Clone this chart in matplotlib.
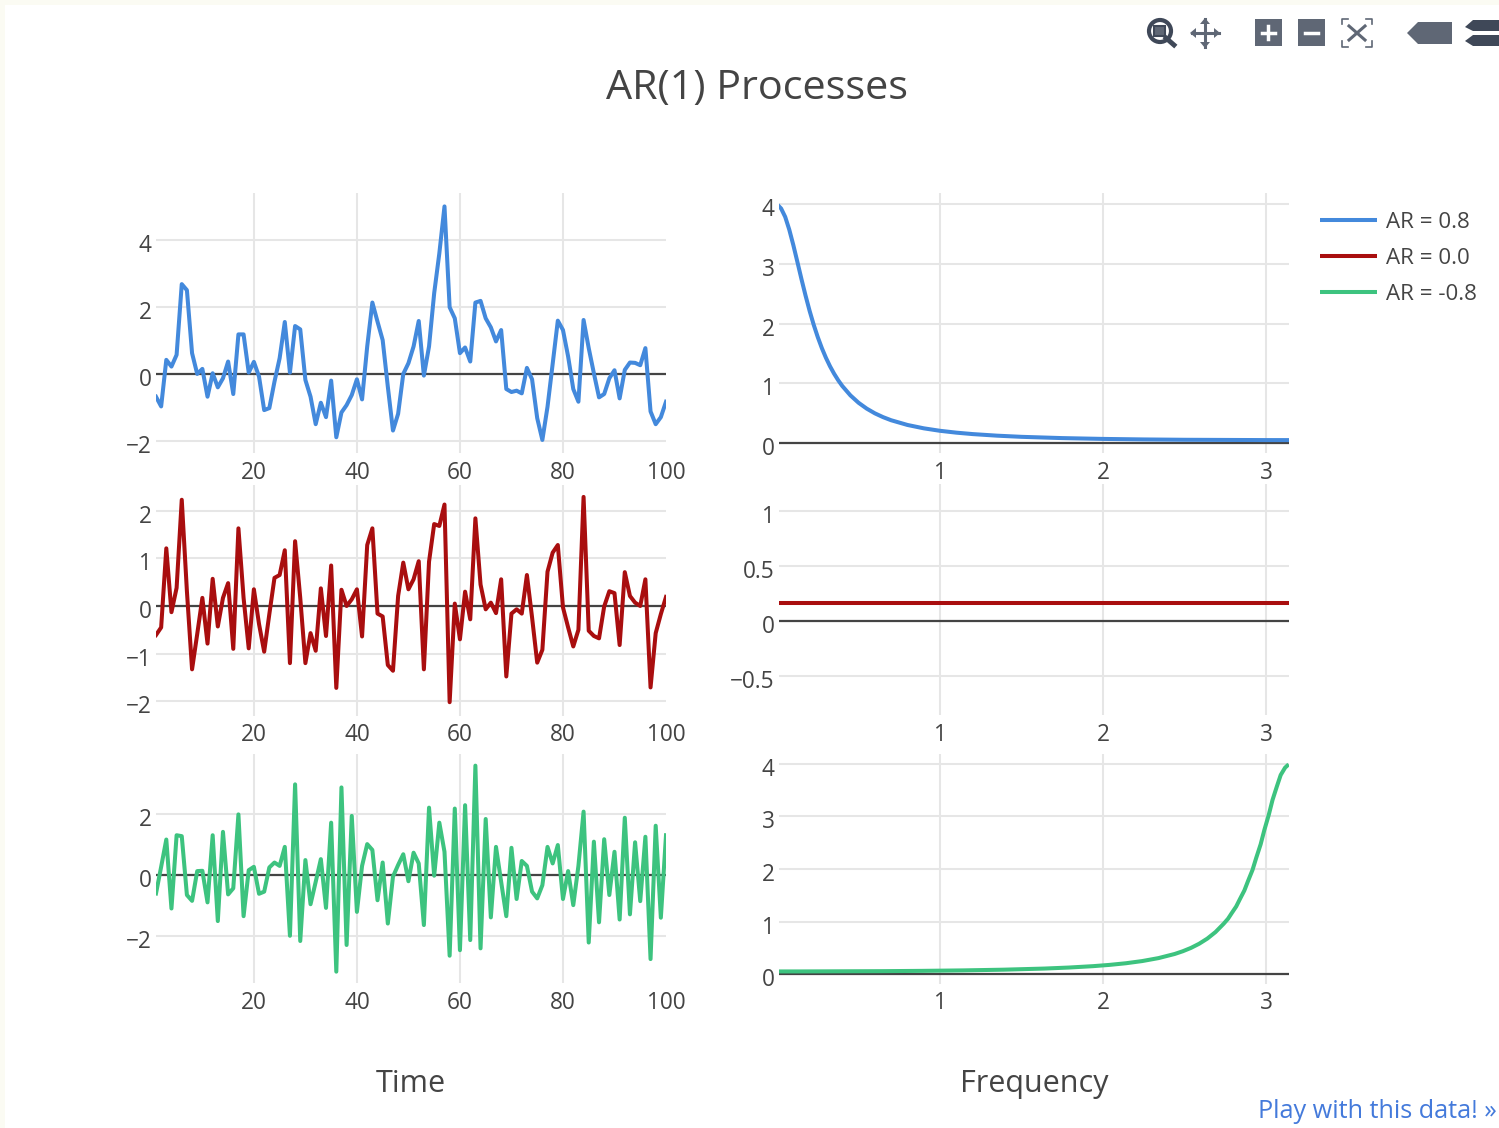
import matplotlib
matplotlib.use('Agg')
import matplotlib.pyplot as plt
from matplotlib.lines import Line2D
from matplotlib.patches import Circle, Polygon, Rectangle
from matplotlib.transforms import ScaledTranslation

plt.rcParams['font.family'] = ['Open Sans', 'DejaVu Sans']

W, H = 1499, 1128
TEXT = '#444444'
BLUE = '#4389dc'
RED = '#a90e0f'
GREEN = '#3dc37f'
LW = 2.9

# Time series
time = list(range(1, 101))
ar_pos = [-0.68, -0.97, 0.42, 0.22, 0.57, 2.68, 2.5, 0.62, 0.0, 0.15,
          -0.68, 0.02, -0.4, -0.13, 0.37, -0.6, 1.18, 1.18, 0.04, 0.36,
          -0.08, -1.08, -1.02, -0.23, 0.47, 1.55, 0.04, 1.43, 1.33, -0.18,
          -0.68, -1.5, -0.86, -1.29, -0.2, -1.89, -1.15, -0.93, -0.63, -0.16,
          -0.76, 0.82, 2.13, 1.56, 1.01, -0.38, -1.69, -1.19, 0.0, 0.32,
          0.82, 1.58, -0.05, 0.82, 2.41, 3.6, 5.0, 1.99, 1.66, 0.62,
          0.79, 0.37, 2.13, 2.18, 1.66, 1.39, 0.97, 1.31, -0.45, -0.54,
          -0.5, -0.58, 0.18, -0.16, -1.32, -1.97, -0.98, 0.3, 1.59, 1.31,
          0.52, -0.45, -0.83, 1.61, 0.77, 0.02, -0.7, -0.6, -0.13, 0.11,
          -0.73, 0.12, 0.34, 0.33, 0.26, 0.77, -1.12, -1.5, -1.29, -0.83]
ar_zero = [-0.61, -0.45, 1.21, -0.13, 0.38, 2.23, 0.31, -1.33, -0.59, 0.17,
           -0.79, 0.57, -0.43, 0.17, 0.48, -0.9, 1.63, 0.17, -0.89, 0.35,
           -0.38, -0.96, -0.17, 0.59, 0.65, 1.17, -1.2, 1.36, 0.17, -1.2,
           -0.57, -0.94, 0.37, -0.63, 0.85, -1.72, 0.34, 0.0, 0.14, 0.35,
           -0.64, 1.28, 1.63, -0.16, -0.22, -1.24, -1.36, 0.21, 0.91, 0.35,
           0.56, 0.94, -1.33, 0.93, 1.72, 1.68, 2.13, -2.02, 0.05, -0.7,
           0.3, -0.28, 1.84, 0.45, -0.07, 0.07, -0.15, 0.56, -1.48, -0.16,
           -0.07, -0.16, 0.65, -0.24, -1.19, -0.92, 0.72, 1.12, 1.28, -0.03,
           -0.45, -0.85, -0.5, 2.29, -0.52, -0.63, -0.68, -0.01, 0.31, 0.27,
           -0.82, 0.71, 0.21, 0.07, 0.0, 0.56, -1.71, -0.57, -0.17, 0.19]
ar_neg = [-0.6, 0.27, 1.16, -1.09, 1.3, 1.27, -0.65, -0.84, 0.13, 0.14,
          -0.89, 1.3, -1.5, 1.41, -0.63, -0.43, 1.98, -1.34, 0.16, 0.27,
          -0.61, -0.54, 0.25, 0.41, 0.3, 0.92, -1.98, 2.96, -2.15, 0.49,
          -0.95, -0.22, 0.52, -1.07, 1.71, -3.15, 2.86, -2.28, 1.93, -1.2,
          0.3, 1.01, 0.82, -0.82, 0.41, -1.58, -0.05, 0.33, 0.68, -0.2,
          0.73, 0.38, -1.63, 2.2, -0.02, 1.71, 0.76, -2.63, 2.17, -2.45,
          2.28, -2.12, 3.57, -2.39, 1.83, -1.38, 0.92, -0.22, -1.34, 0.89,
          -0.78, 0.46, 0.3, -0.54, -0.76, -0.33, 0.92, 0.38, 0.98, -0.78,
          0.13, -0.98, 0.3, 2.07, -2.2, 1.09, -1.54, 1.17, -0.65, 0.76,
          -1.45, 1.87, -1.28, 1.07, -0.85, 1.25, -2.74, 1.61, -1.39, 1.3]

# Spectra
freq_pos = [0.012, 0.025, 0.05, 0.075, 0.1, 0.125, 0.15, 0.175, 0.2, 0.225, 0.25, 0.275,
            0.3, 0.325, 0.35, 0.375, 0.4, 0.45, 0.5, 0.55, 0.6, 0.65, 0.7, 0.8,
            0.9, 1.0, 1.1, 1.2, 1.35, 1.5, 1.75, 2.0, 2.25, 2.5, 3.0, 3.14]
spec_pos = [3.967, 3.93, 3.79, 3.576, 3.316, 3.033, 2.745, 2.47, 2.213, 1.981, 1.774, 1.59,
            1.428, 1.286, 1.162, 1.053, 0.957, 0.799, 0.675, 0.577, 0.498, 0.4345, 0.382, 0.303,
            0.2466, 0.205, 0.174, 0.15, 0.1234, 0.104, 0.0827, 0.069, 0.0602, 0.0545, 0.0494, 0.0491]
freq_zero = [0.012, 3.14]
spec_zero = [0.159, 0.159]
freq_neg = [0.012, 0.14, 0.64, 0.89, 1.14, 1.39, 1.64, 1.79, 1.94, 2.04, 2.14, 2.24,
            2.34, 2.44, 2.49, 2.54, 2.59, 2.64, 2.69, 2.74, 2.767, 2.79, 2.817, 2.84,
            2.867, 2.89, 2.917, 2.94, 2.967, 2.99, 3.017, 3.04, 3.067, 3.09, 3.117, 3.13]
spec_neg = [0.0491, 0.0494, 0.0545, 0.0602, 0.069, 0.0827, 0.104, 0.1234, 0.15, 0.174, 0.205, 0.2466,
            0.303, 0.382, 0.4345, 0.498, 0.577, 0.675, 0.799, 0.957, 1.053, 1.162, 1.286, 1.428,
            1.59, 1.774, 1.981, 2.213, 2.47, 2.745, 3.033, 3.316, 3.576, 3.79, 3.93, 3.967]

legend_labels = ['AR = 0.8', 'AR = 0.0', 'AR = -0.8']


def add_axes_px(left, top, right, bottom):
    return fig.add_axes([left / W, 1 - bottom / H, (right - left) / W, (bottom - top) / H])


def style(ax, xlim, ylim, xticks, xlabels, yticks, ylabels, xpad, hide_last=False):
    ax.set_xlim(xlim)
    ax.set_ylim(ylim)
    ax.set_xticks(xticks, xlabels)
    ax.set_yticks(yticks, ylabels)
    ax.tick_params(length=0, labelsize=16.3, labelcolor=TEXT)
    ax.tick_params(axis='x', pad=xpad)
    ax.tick_params(axis='y', pad=3)
    # y labels sit about 3 px under their gridlines
    shift = ScaledTranslation(0, -0.03, fig.dpi_scale_trans)
    for lab in ax.get_yticklabels():
        lab.set_transform(lab.get_transform() + shift)
    ax.grid(color='#e6e6e6', lw=1.45)
    ax.set_axisbelow(True)
    for s in ax.spines.values():
        s.set_visible(False)
    ax.patch.set_alpha(0)
    if hide_last:
        ax.get_xgridlines()[-1].set_visible(False)
    ax.axhline(0, color=TEXT, lw=1.6, zorder=1.5)


fig = plt.figure(figsize=(W / 100, H / 100), dpi=100, facecolor='white')

left_x = dict(xlim=(1, 100), xticks=[20, 40, 60, 80, 100],
              xlabels=['20', '40', '60', '80', '100'], hide_last=True)
right_x = dict(xlim=(0.012, 3.141), xticks=[1, 2, 3], xlabels=['1', '2', '3'])

ax1 = add_axes_px(156, 193, 666, 453)
ax1.plot(time, ar_pos, color=BLUE, lw=LW)
style(ax1, ylim=(-2.36, 5.40), yticks=[-2, 0, 2, 4], ylabels=['\u22122', '0', '2', '4'], xpad=6, **left_x)

ax2 = add_axes_px(156, 485, 666, 716)
ax2.plot(time, ar_zero, color=RED, lw=LW)
style(ax2, ylim=(-2.31, 2.54), yticks=[-2, -1, 0, 1, 2],
      ylabels=['\u22122', '\u22121', '0', '1', '2'], xpad=5, **left_x)

ax3 = add_axes_px(156, 754, 666, 983)
ax3.plot(time, ar_neg, color=GREEN, lw=LW)
style(ax3, ylim=(-3.52, 3.95), yticks=[-2, 0, 2], ylabels=['\u22122', '0', '2'], xpad=5.5, **left_x)

ax4 = add_axes_px(779, 193, 1289, 453)
ax4.plot(freq_pos, spec_pos, color=BLUE, lw=LW)
style(ax4, ylim=(-0.167, 4.19), yticks=[0, 1, 2, 3, 4], ylabels=['0', '1', '2', '3', '4'], xpad=6, **right_x)

ax5 = add_axes_px(779, 484, 1289, 715)
ax5.plot(freq_zero, spec_zero, color=RED, lw=LW)
style(ax5, ylim=(-0.85, 1.24), yticks=[-0.5, 0, 0.5, 1],
      ylabels=['\u22120.5', '0', '0.5', '1'], xpad=5.5, **right_x)

ax6 = add_axes_px(779, 754, 1289, 984)
ax6.plot(freq_neg, spec_neg, color=GREEN, lw=LW)
style(ax6, ylim=(-0.19, 4.19), yticks=[0, 1, 2, 3, 4], ylabels=['0', '1', '2', '3', '4'], xpad=5, **right_x)

# Titles
fig.text(757.5 / W, 1 - 89 / H, 'AR(1) Processes', ha='center', va='center', fontsize=29.8, color=TEXT)
fig.text(411 / W, 1 - 1084 / H, 'Time', ha='center', va='center', fontsize=22, color=TEXT)
fig.text(1034 / W, 1 - 1084 / H, 'Frequency', ha='center', va='center', fontsize=22, color=TEXT)
fig.text(1497 / W, 1 - 1111 / H, 'Play with this data! \u00bb', ha='right', va='center',
         fontsize=18.2, color='#447adb')

# Legend
handles = [Line2D([], [], color=c, lw=LW, solid_capstyle='butt') for c in (BLUE, RED, GREEN)]
fig.legend(handles, legend_labels, loc='upper left', bbox_to_anchor=(1320 / W, 1 - 212 / H),
           frameon=False, fontsize=16.1, labelcolor=TEXT, handlelength=2.55, handletextpad=0.4,
           labelspacing=0.66, borderpad=0, borderaxespad=0)

# Toolbar and page edge, drawn in pixel coordinates
over = fig.add_axes([0, 0, 1, 1], zorder=5)
over.set_xlim(0, W)
over.set_ylim(H, 0)
over.axis('off')

DARK = '#3f4858'
GREY = '#5f6775'
over.add_patch(Rectangle((0, 0), W, 5, color='#fbfbf3', lw=0))
over.add_patch(Rectangle((0, 0), 5, H, color='#fbfbf3', lw=0))

# zoom icon
over.plot([1166, 1174], [38, 45], color=DARK, lw=3.5)
over.add_patch(Circle((1160, 31), 11, fc='white', ec=DARK, lw=3))
over.add_patch(Rectangle((1154, 26), 11, 10, fc=GREY, ec=DARK, lw=1.5))
# pan icon
over.plot([1192, 1219], [33, 33], color=GREY, lw=2.2)
over.plot([1205, 1205], [19, 47], color=GREY, lw=2.2)
for pts in ([(1190, 33), (1196, 28), (1196, 38)], [(1220, 33), (1214, 28), (1214, 38)],
            [(1205, 18), (1200, 24), (1210, 24)], [(1205, 48), (1200, 42), (1210, 42)]):
    over.add_patch(Polygon(pts, color=GREY, lw=0))
# plus and minus icons
over.add_patch(Rectangle((1255, 19), 27, 27, color=GREY, lw=0))
over.plot([1262, 1275], [33, 33], color='white', lw=2.5)
over.plot([1268.5, 1268.5], [26, 39], color='white', lw=2.5)
over.add_patch(Rectangle((1298, 19), 27, 27, color=GREY, lw=0))
over.plot([1305, 1318], [33, 33], color='white', lw=2.5)
# autoscale icon
for xs, ys in (([1342, 1342, 1348], [24, 19, 19]), ([1366, 1372, 1372], [19, 19, 24]),
               ([1342, 1342, 1348], [41, 47, 47]), ([1366, 1372, 1372], [47, 47, 41])):
    over.plot(xs, ys, color=GREY, lw=1.2)
over.plot([1349, 1365], [26, 40], color=GREY, lw=2.2)
over.plot([1349, 1365], [40, 26], color=GREY, lw=2.2)
# hover icons
over.add_patch(Polygon([(1407, 33), (1418, 22), (1452, 22), (1452, 44), (1418, 44)], color=GREY, lw=0))
over.add_patch(Polygon([(1465, 27), (1473, 20), (1499, 20), (1499, 31), (1473, 31)], color=DARK, lw=0))
over.add_patch(Polygon([(1465, 41), (1473, 35), (1499, 35), (1499, 46), (1473, 46)], color=DARK, lw=0))

fig.savefig('out.png', dpi=100)
